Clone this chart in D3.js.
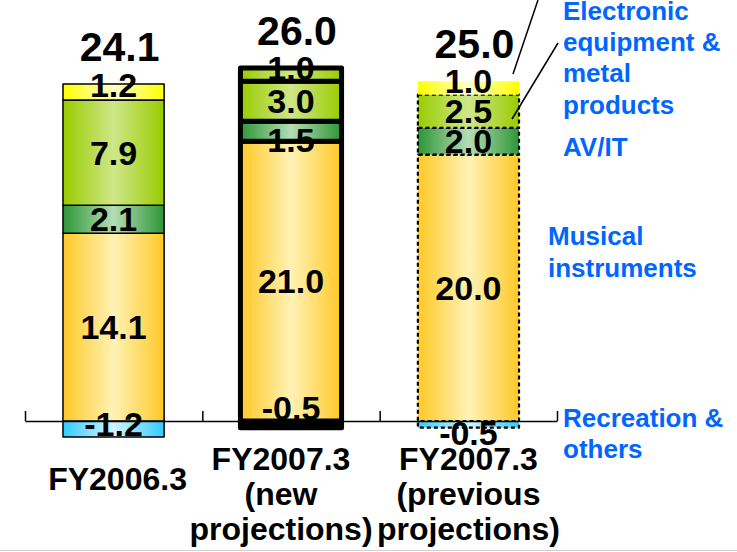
<!DOCTYPE html>
<html>
<head>
<meta charset="utf-8">
<script src="https://cdn.jsdelivr.net/npm/d3@7"></script>
<style>
  body { margin: 0; background: #fff; }
  svg { display: block; font-family: "Liberation Sans", Arial, sans-serif; font-weight: bold; }
</style>
</head>
<body>
<div id="chart"></div>
<script>
// data
const categories = ["FY2006.3", "FY2007.3 (new projections)", "FY2007.3 (previous projections)"];
const categoryLines = [["FY2006.3"], ["FY2007.3", "(new", "projections)"], ["FY2007.3", "(previous", "projections)"]];
const keys = ["recreation", "musical", "avit", "electronic", "other"];
const recreation = [-1.2, -0.5, -0.5];
const musical = [14.1, 21.0, 20.0];
const avit = [2.1, 1.5, 2.0];
const electronic = [7.9, 3.0, 2.5];
const other = [1.2, 1.0, 1.0];

const width = 737, height = 552;
const baseY = 421;

const rows = categories.map((c, i) => ({
    cat: c, recreation: recreation[i], musical: musical[i], avit: avit[i],
    electronic: electronic[i], other: other[i]
}));

const stack = d3.stack().keys(keys).offset(d3.stackOffsetDiverging);
const stacked = stack(rows);

const x = d3.scaleBand()
    .domain(categories)
    .range([25, 557])
    .paddingInner(0.43)
    .paddingOuter(0.214);

const y = d3.scaleLinear()
    .domain([0, 25.3])
    .range([baseY, 84]);

const svg = d3.select("#chart").append("svg")
    .attr("width", width)
    .attr("height", height);

// gradients (edge colour, centre colour)
const grads = {
    recreation: ["#33CCFF", "#D2F3FF"],
    musical: ["#FFC926", "#FFF2B5"],
    avit: ["#2E9637", "#B4DDB4"],
    electronic: ["#99CC00", "#CFE789"],
    other: ["#FFFF00", "#FFFFC8"]
};
const defs = svg.append("defs");
Object.keys(grads).forEach(function(k) {
    let g = defs.append("linearGradient").attr("id", "g-" + k)
        .attr("x1", "0%").attr("x2", "100%").attr("y1", "0%").attr("y2", "0%");
    g.append("stop").attr("offset", "0%").attr("stop-color", grads[k][0]);
    g.append("stop").attr("offset", "50%").attr("stop-color", grads[k][1]);
    g.append("stop").attr("offset", "100%").attr("stop-color", grads[k][0]);
});

// bottom grey rule
svg.append("line")
    .attr("x1", 0).attr("x2", width)
    .attr("y1", 550.5).attr("y2", 550.5)
    .attr("stroke", "#d0d0d0");

const strokeW = [1.5, 5, 2.2];

function fillFor(key, i) {
    // new projection bar: top segment green, thin negative segment is all border
    if (key === "other" && i === 1) return "url(#g-electronic)";
    if (key === "recreation" && i === 1) return "#000";
    return "url(#g-" + key + ")";
}

let segs = [];
stacked.forEach(function(layer) {
    layer.forEach(function(d, i) {
        segs.push({ key: layer.key, i: i, y0: d[0], y1: d[1], v: d.data[layer.key], cat: d.data.cat });
    });
});

const bars = svg.append("g").attr("class", "bars");

// draw thick-bordered bars last so their borders sit on top
bars.selectAll("rect")
    .data(segs.slice().sort((a, b) => d3.ascending(a.i === 1, b.i === 1)))
    .enter()
    .append("rect")
    .attr("x", d => x(d.cat))
    .attr("width", x.bandwidth())
    .attr("y", d => y(Math.max(d.y0, d.y1)))
    .attr("height", d => Math.abs(y(d.y0) - y(d.y1)))
    .attr("fill", d => fillFor(d.key, d.i))
    .attr("stroke", d => (d.i === 2 && d.key === "other") ? "none" : "#000")
    .attr("stroke-width", d => strokeW[d.i])
    .attr("stroke-dasharray", d => d.i === 2 ? "4,3" : null)
    .attr("stroke-linejoin", "round");

// axis
const tickScale = d3.scaleLinear().domain([0, 3]).range([25, 557]);
const axis = svg.append("g")
    .attr("transform", "translate(0," + baseY + ")")
    .call(d3.axisBottom(tickScale).ticks(3).tickSize(-10).tickFormat("").tickSizeOuter(0));
axis.selectAll("path, line").attr("stroke", "#000").attr("stroke-width", 1.5);

// small labels are nudged off-centre like in the original slide
function nudge(d) {
    if (d.key === "other") return -7;
    if (d.key === "avit" && d.i === 1) return 9;
    if (d.key === "recreation") return [-5, -16, 9][d.i];
    return 0;
}

// segment labels
svg.append("g").selectAll("text")
    .data(segs)
    .enter()
    .append("text")
    .attr("x", d => x(d.cat) + x.bandwidth() / 2)
    .attr("y", d => (y(d.y0) + y(d.y1)) / 2 + 12 + nudge(d))
    .attr("text-anchor", "middle")
    .style("font-size", "34px")
    .attr("fill", "#000")
    .text(d => d3.format(".1f")(d.v).replace("−", "-"));

// totals
svg.append("g").selectAll("text")
    .data(rows)
    .enter()
    .append("text")
    .attr("x", d => x(d.cat) + x.bandwidth() / 2 + 6)
    .attr("y", d => y(d.musical + d.avit + d.electronic + d.other) - 23)
    .attr("text-anchor", "middle")
    .style("font-size", "41px")
    .text(d => d3.format(".1f")(d3.sum(keys, k => d[k])));

// category labels
const catBase = [[490], [470, 505, 540], [470, 505, 540]];
categories.forEach(function(c, i) {
    categoryLines[i].forEach(function(line, j) {
        svg.append("text")
            .attr("x", x(c) + x.bandwidth() / 2 - (i === 1 ? 10 : 0) + (i === 0 ? 4 : 0))
            .attr("y", catBase[i][j])
            .attr("text-anchor", "middle")
            .style("font-size", "32px")
            .text(line);
    });
});

// leader lines
svg.append("line").attr("x1", 538).attr("y1", 0).attr("x2", 513).attr("y2", 74)
    .attr("stroke", "#000").attr("stroke-width", 1.5);
svg.append("line").attr("x1", 558).attr("y1", 43).attr("x2", 512).attr("y2", 119)
    .attr("stroke", "#000").attr("stroke-width", 1.5);

// legend labels
const legend = [
    { x: 563, ys: [20, 51, 82, 114], lines: ["Electronic", "equipment &", "metal", "products"] },
    { x: 563, ys: [156], lines: ["AV/IT"] },
    { x: 548, ys: [245, 277], lines: ["Musical", "instruments"] },
    { x: 563, ys: [427, 458], lines: ["Recreation &", "others"] }
];
legend.forEach(function(l) {
    l.lines.forEach(function(t, j) {
        svg.append("text")
            .attr("x", l.x)
            .attr("y", l.ys[j])
            .style("font-size", "26px")
            .attr("fill", "#0066FF")
            .text(t);
    });
});
</script>
</body>
</html>
